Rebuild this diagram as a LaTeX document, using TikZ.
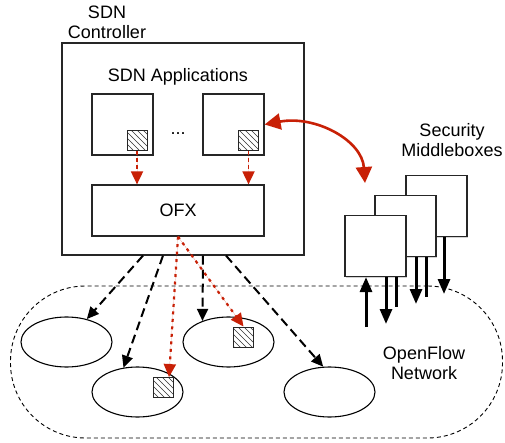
\documentclass[tikz,border=0pt]{standalone}
\usepackage{fontspec}
\setmainfont{Liberation Sans}
\usepackage{xcolor}
\usepackage{tikz}
\usetikzlibrary{arrows.meta, positioning, patterns, shadows, shapes.geometric}
\definecolor{sdnred}{RGB}{200,32,6}
\pgfdeclarepatternformonly{wide nw lines}{\pgfqpoint{-1pt}{-1pt}}{\pgfqpoint{7pt}{7pt}}{\pgfqpoint{6pt}{6pt}}{
  \pgfsetlinewidth{0.6pt}
  \pgfpathmoveto{\pgfqpoint{0pt}{6pt}}
  \pgfpathlineto{\pgfqpoint{6.1pt}{-0.1pt}}
  \pgfusepath{stroke}
}
\tikzset{
  box/.style={rectangle, draw=black!85, fill=white, line width=1.2pt,
              inner sep=0pt,
              drop shadow={shadow xshift=1.2pt, shadow yshift=-1.2pt, opacity=0.35}},
  appbox/.style={box, minimum width=61, minimum height=61},
  hatch/.style={rectangle, draw=black!85, line width=0.9pt,
                pattern=wide nw lines, pattern color=black!80,
                minimum size=20, inner sep=0pt},
  switch/.style={ellipse, draw, line width=1.1pt, fill=white,
                 minimum width=91, minimum height=50, inner sep=0pt},
  netarea/.style={rectangle, draw, dash pattern=on 4pt off 3pt, line width=0.9pt,
                  rounded corners=75,
                  minimum width=492, minimum height=152, inner sep=0pt},
  ctrlflow/.style={-{Triangle[length=12pt, width=11pt]}, line width=2pt,
                   dash pattern=on 9pt off 5pt},
  redflow/.style={-{Triangle[length=13pt, width=12pt]}, draw=sdnred, fill=sdnred,
                  line width=1.8pt, dash pattern=on 4pt off 3pt},
  reddots/.style={-{Triangle[length=13pt, width=12pt]}, draw=sdnred, fill=sdnred,
                  line width=2.2pt, dash pattern=on 3pt off 4.5pt},
  redlink/.style={{Triangle[length=16pt, width=16pt]}-{Triangle[length=16pt, width=16pt]},
                  draw=sdnred, line width=2.6pt},
  mbarrow/.style={-{Triangle[length=15pt, width=12pt]}, line width=3pt},
  mbline/.style={line width=3pt},
}

\begin{document}
\begin{tikzpicture}[x=1pt, y=-1pt, font=\fontsize{18}{20}\selectfont]
  \useasboundingbox (0,0) rectangle (505,443);

  % controller
  \node[box, minimum width=242, minimum height=212] (ctl) at (183,149) {};
  \node[align=center] (ctltitle) at (107,22) {SDN\\Controller};
  \node (apptitle) at (178,77) {SDN Applications};
  \node[appbox] (app1) at (122.5,124.5) {};
  \node[appbox] (app2) at (233.5,124.5) {};
  \node (dots) at (178,134) {...};
  \node[hatch] (h1) at (137,140.5) {};
  \node[hatch] (h2) at (248.5,140.5) {};
  \node[box, minimum width=172, minimum height=51] (ofx) at (178,210.5) {OFX};

  % network
  \node[netarea] (net) at (256.5,362) {};
  \node[switch] (s1) at (66.5,342) {};
  \node[switch] (s2) at (137.5,392) {};
  \node[switch] (s3) at (228.5,342) {};
  \node[switch] (s4) at (329.5,392) {};
  \node[hatch] (hs2) at (163,387.5) {};
  \node[hatch] (hs3) at (243.5,337) {};
  \node[align=center] (netlabel) at (424,363) {OpenFlow\\Network};

  % middleboxes
  \node[align=center] (mbtitle) at (452,140) {Security\\Middleboxes};
  \node[appbox] (mb3) at (436.5,206) {};
  \node[appbox] (mb2) at (405.5,226) {};
  \node[appbox] (mb1) at (375.5,246) {};

  \coordinate (in1)  at (366,327);
  \coordinate (out1) at (386,324);
  \coordinate (out2) at (416,304);
  \coordinate (out3) at (444,294);
  \coordinate (end1) at (396,307);
  \coordinate (end2) at (426,297);
  \coordinate (mbtip) at (365,183);

  \draw[mbarrow] (in1) -- (in1 |- mb1.south);
  \foreach \o/\b in {out1/mb1, out2/mb2, out3/mb3}
    \draw[mbarrow] (\o |- \b.south) -- (\o);
  \foreach \e/\b in {end1/mb1, end2/mb2}
    \draw[mbline] (\e |- \b.south) -- (\e);

  % flows
  \foreach \dx/\tgt in {-40/s1, -20/s2.120, 20/s3.141, 43/s4.104}
    \draw[ctrlflow] ([xshift=\dx]ctl.south) -- (\tgt);

  \foreach \h in {h1, h2}
    \draw[redflow] (\h.south) -- (\h.south |- ofx.north);
  \draw[reddots] (ofx.south) -- ([xshift=6]hs2.north);
  \draw[reddots] (ofx.south) -- (hs3.north);

  \draw[redlink] (app2.east) .. controls (315,115) and (362,140) .. (mbtip);

\end{tikzpicture}
\end{document}
